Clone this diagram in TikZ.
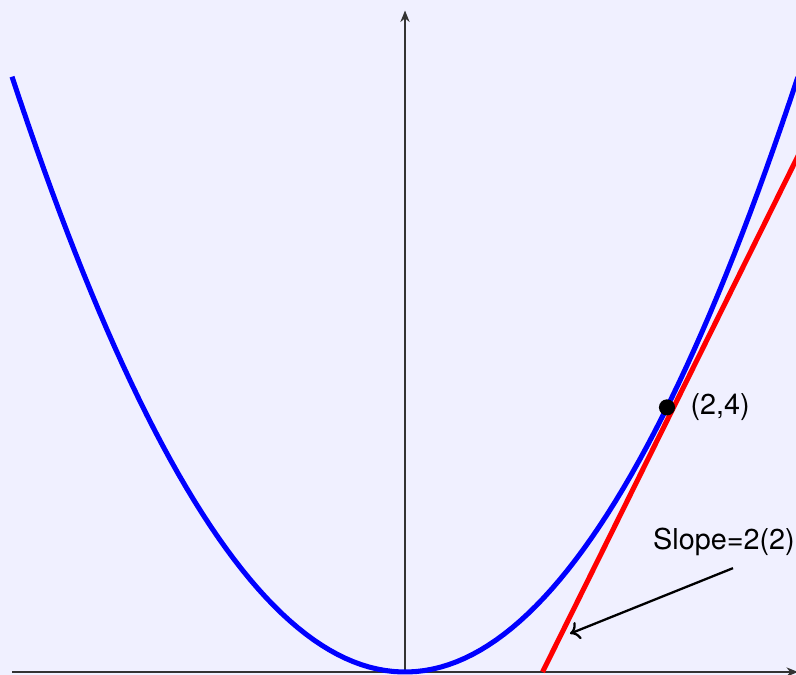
\documentclass[tikz,border=0pt]{standalone}
\usepackage{fontspec}
\setmainfont{TeX Gyre Heros}
\usepackage{tikz}
\usetikzlibrary{arrows.meta, calc, positioning}

\definecolor{bgpage}{RGB}{240,240,255}

\begin{document}
\begin{tikzpicture}[x=2cm, y=1.01cm, >=Stealth,
    every node/.style={font=\fontsize{12.5}{15}\selectfont},
    dot/.style={circle, fill=black, inner sep=0pt, minimum size=7pt}]
    \useasboundingbox[fill=bgpage] (-3.092,-0.045) rectangle (2.985,10.159);

    % axes
    \draw[-{Stealth[length=5pt,width=4pt]}, black!80, line width=0.6pt] (-3,0) -- (3,0);
    \draw[-{Stealth[length=5pt,width=4pt]}, black!80, line width=0.6pt] (0,0) -- (0,10);

    % tangent at x=2 (set just beside the curve), then the curve
    \draw[red, line width=2.2pt] (1.05,0) -- (3.05,8);
    \draw[blue, line width=2.2pt, domain=-3:3, samples=100] plot (\x, {\x*\x});

    \node[dot] (pt) at (2,4) {};
    \node[right=3pt of pt] (ptlabel) {(2,4)};

    \node (slope) at (2.435,1.97) {Slope=2(2)};
    \coordinate (from) at (2.504,1.57);
    \coordinate (tip) at (1.26,0.58);
    \draw[-{To[length=4pt,width=8pt]}, line width=1pt] (from) -- (tip);
\end{tikzpicture}
\end{document}
